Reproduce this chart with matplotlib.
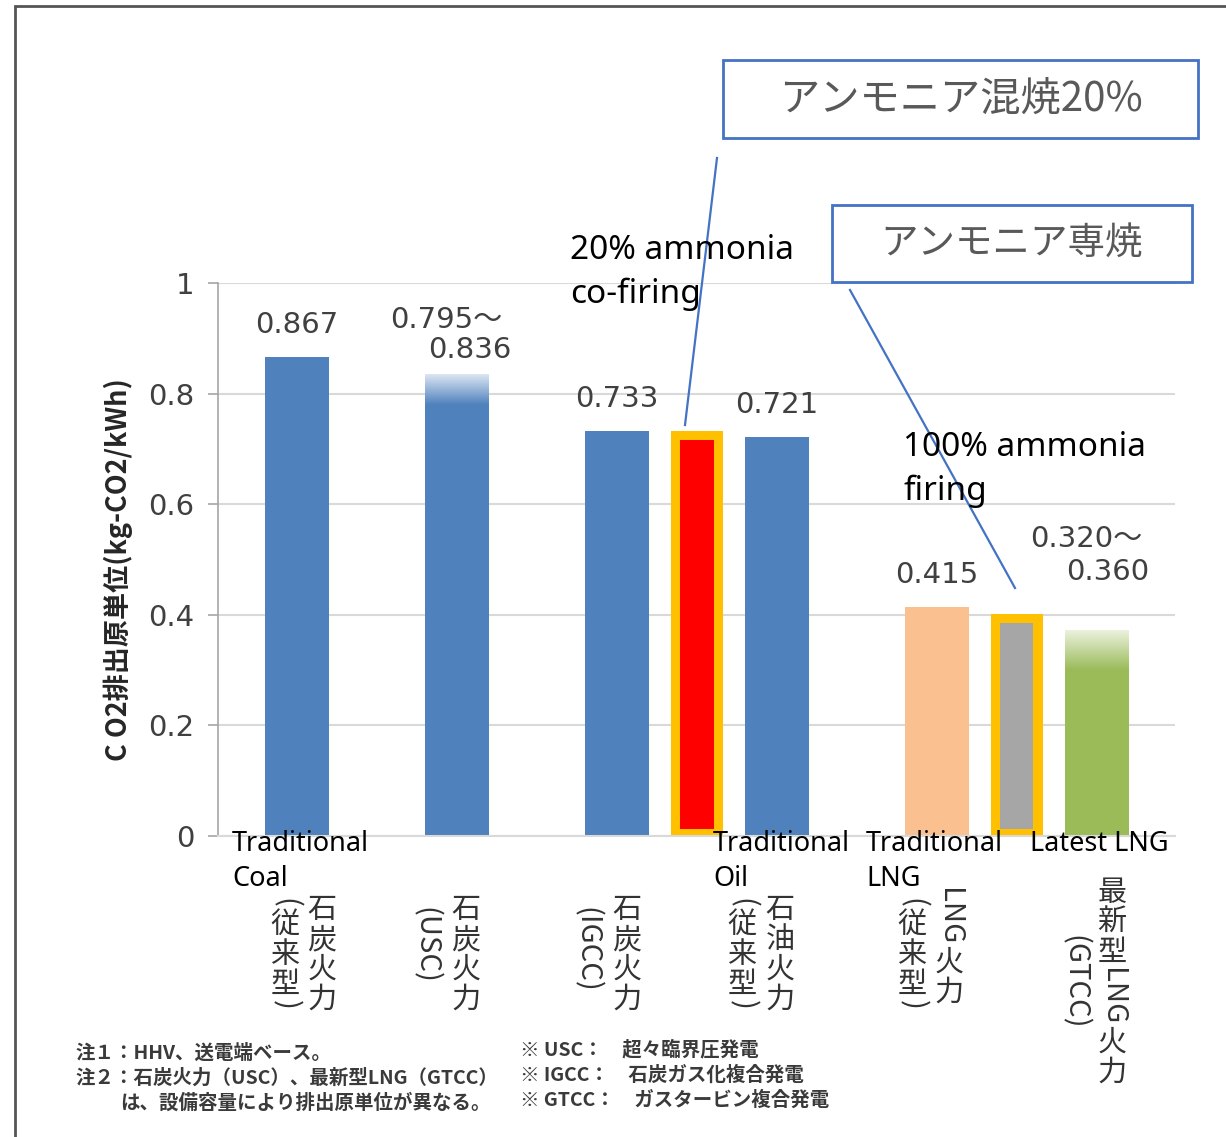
import numpy as np
import matplotlib
matplotlib.use('Agg')
import matplotlib.pyplot as plt
from matplotlib.patches import Rectangle
from matplotlib.lines import Line2D
from matplotlib.colors import LinearSegmentedColormap, to_rgb

plt.rcParams['font.family'] = ['Noto Sans CJK JP', 'DejaVu Sans']
NUM_FONT = ['DejaVu Sans', 'Noto Sans CJK JP']

# ---- data ----
# plain bars
solid_pos = [0, 4, 6, 8]
solid_vals = [0.867, 0.733, 0.721, 0.415]
solid_colors = ['#4f81bd', '#4f81bd', '#4f81bd', '#fac08f']
solid_text = ['0.867', '0.733', '0.721', '0.415']

# bars shown as a range (fading top)
range_pos = [2, 10]
range_lo = [0.78, 0.30]
range_hi = [0.836, 0.372]
range_colors = ['#4f81bd', '#9bbb59']
range_text1 = ['0.795～', '0.320～']
range_text2 = ['0.836', '0.360']

# ammonia cases (orange outline)
amm_pos = [5, 9]
amm_outer = [0.733, 0.401]
amm_inner = [0.716, 0.385]
amm_colors = ['#ff0000', '#a6a6a6']

yticks = [0, 0.2, 0.4, 0.6, 0.8, 1.0]
ytick_labels = ['0', '0.2', '0.4', '0.6', '0.8', '1']

ja_main = ['石炭火力', '石炭火力', '石炭火力', '石油火力', 'LNG火力', '最新型LNG火力']
ja_sub = ['(従来型)', '(USC)', '(IGCC)', '(従来型)', '(従来型)', '(GTCC)']
en_labels = ['Traditional\nCoal', 'Traditional\nOil', 'Traditional\nLNG', 'Latest LNG']

notes_left = ['注１：HHV、送電端ベース。',
              '注２：石炭火力（USC）、最新型LNG（GTCC）',
              'は、設備容量により排出原単位が異なる。']
notes_right = ['※ USC：　超々臨界圧発電',
               '※ IGCC：　石炭ガス化複合発電',
               '※ GTCC：　ガスタービン複合発電']

W, H = 1226, 1137


def fx(x):
    return x / W


def fy(y):
    return 1 - y / H


fig = plt.figure(figsize=(W / 100, H / 100), dpi=100)
ax = fig.add_axes([fx(218), fy(836), fx(1175) - fx(218), fy(283) - fy(836)])

ax.bar(solid_pos, solid_vals, width=0.8, color=solid_colors, zorder=2)

for p, lo, hi, c in zip(range_pos, range_lo, range_hi, range_colors):
    ax.bar(p, lo, width=0.8, color=c, zorder=2)
    base = np.array(to_rgb(c))
    light = base + (1 - base) * 0.8
    cm = LinearSegmentedColormap.from_list('fade', [base, light])
    grad = np.linspace(0, 1, 200).reshape(-1, 1)
    ax.imshow(grad, cmap=cm, extent=[p - 0.4, p + 0.4, lo, hi], origin='lower',
              aspect='auto', zorder=2)

ax.bar(amm_pos, amm_outer, width=0.65, color='#ffc000', zorder=2)
ax.bar(amm_pos, np.array(amm_inner) - 0.012, bottom=0.012, width=0.42,
       color=amm_colors, zorder=3)

for p, v, t in zip(solid_pos, solid_vals, solid_text):
    ax.annotate(t, (p, v), xytext=(0, 23), textcoords='offset points',
                ha='center', va='center', fontsize=21, color='#404040',
                family=NUM_FONT)
# label offsets (points) for the range labels
off1 = [(-48, 39), (-48, 66)]
off2 = [(-21, 17), (-22, 42)]
for p, hi, t1, t2, o1, o2 in zip(range_pos, range_hi, range_text1, range_text2, off1, off2):
    ax.annotate(t1, (p, hi), xytext=o1, textcoords='offset points',
                ha='left', va='center', fontsize=21, color='#404040', family=NUM_FONT)
    ax.annotate(t2, (p, hi), xytext=o2, textcoords='offset points',
                ha='left', va='center', fontsize=21, color='#404040', family=NUM_FONT)

ax.set_xlim(-0.99, 10.98)
ax.set_ylim(0, 1)
ax.set_xticks([])
ax.set_yticks(yticks)
ax.set_yticklabels(ytick_labels, fontsize=21, color='#404040', family=NUM_FONT)
ax.tick_params(axis='y', length=7, width=1.2, color='#a6a6a6', pad=10)
ax.yaxis.grid(True, color='#d9d9d9', linewidth=1.5, zorder=0)
ax.set_axisbelow(True)
for s in ['top', 'right']:
    ax.spines[s].set_visible(False)
ax.spines['left'].set_color('#a6a6a6')
ax.spines['left'].set_linewidth(1.2)
ax.spines['bottom'].set_color('#d9d9d9')
ax.spines['bottom'].set_linewidth(1.5)

fig.text(fx(118), fy(570), 'C O2排出原単位(kg-CO2/kWh)', rotation=90,
         ha='center', va='center', fontsize=19.5, fontweight='bold', color='#262626')

# vertical (tategaki) category labels
rend = fig.canvas.get_renderer()


def tokens(s):
    out = []
    run = ''
    for ch in s:
        if ord(ch) > 0x2E80:
            if run:
                out.append(run)
                run = ''
            out.append(ch)
        else:
            run += ch
    if run:
        out.append(run)
    return out


def vcol(x, y, s, size=21, pitch=30):
    for tok in tokens(s):
        if ord(tok[0]) > 0x2E80:
            fig.text(fx(x), fy(y), tok, ha='center', va='top', fontsize=size,
                     color='#333333')
            y += pitch
        else:
            t = fig.text(fx(x), fy(y), tok, ha='center', va='top', rotation=-90,
                         fontsize=size, color='#333333')
            y += t.get_window_extent(rend).height + 2


main_xy = [(322, 895), (466, 895), (627, 895), (780, 895), (949, 888), (1112, 878)]
sub_xy = [(285, 898), (425, 907), (586, 907), (742, 898), (912, 898), (1074, 935)]
for s, (x, y) in zip(ja_main, main_xy):
    vcol(x, y, s)
for s, (x, y) in zip(ja_sub, sub_xy):
    vcol(x, y, s)

en_xy = [(232, 830), (713, 830), (866, 830), (1030, 830)]
for s, (x, y) in zip(en_labels, en_xy):
    fig.text(fx(x), fy(y), s, ha='left', va='top', fontsize=19.5,
             family='Noto Sans', color='black', linespacing=1.32)

# annotations
fig.text(fx(570), fy(234), '20% ammonia\nco-firing', ha='left', va='top',
         fontsize=24, family='Noto Sans', color='black', linespacing=1.4)
fig.text(fx(903), fy(431), '100% ammonia\nfiring', ha='left', va='top',
         fontsize=24, family='Noto Sans', color='black', linespacing=1.4)

for (x0, y0, x1, y1), txt, fs in [((723, 60, 1198, 138), 'アンモニア混焼20%', 29),
                                  ((832, 205, 1192, 282), 'アンモニア専焼', 27)]:
    fig.patches.append(Rectangle((fx(x0), fy(y1)), fx(x1) - fx(x0), fy(y0) - fy(y1),
                                 transform=fig.transFigure, fill=False,
                                 edgecolor='#4472c4', linewidth=2))
    fig.text(fx((x0 + x1) / 2), fy((y0 + y1) / 2), txt, ha='center', va='center',
             fontsize=fs, color='#595959')

fig.lines.append(Line2D([fx(717), fx(685)], [fy(158), fy(425)],
                        transform=fig.transFigure, color='#4472c4', linewidth=1.6))
fig.lines.append(Line2D([fx(850), fx(1015)], [fy(290), fy(588)],
                        transform=fig.transFigure, color='#4472c4', linewidth=1.6))

# notes
for i, s in enumerate(notes_left):
    x = 75 if i < 2 else 120
    fig.text(fx(x), fy(1053 + 25 * i), s, ha='left', va='center', fontsize=14,
             fontweight='bold', color='#3a3a3a')
for i, s in enumerate(notes_right):
    fig.text(fx(520), fy(1050 + 25 * i), s, ha='left', va='center', fontsize=14,
             fontweight='bold', color='#3a3a3a')

# outer frame
fig.patches.append(Rectangle((fx(15), fy(1160)), 1.1, fy(6) - fy(1160),
                             transform=fig.transFigure, fill=False,
                             edgecolor='#555555', linewidth=2))

fig.savefig('out.png', dpi=100)
